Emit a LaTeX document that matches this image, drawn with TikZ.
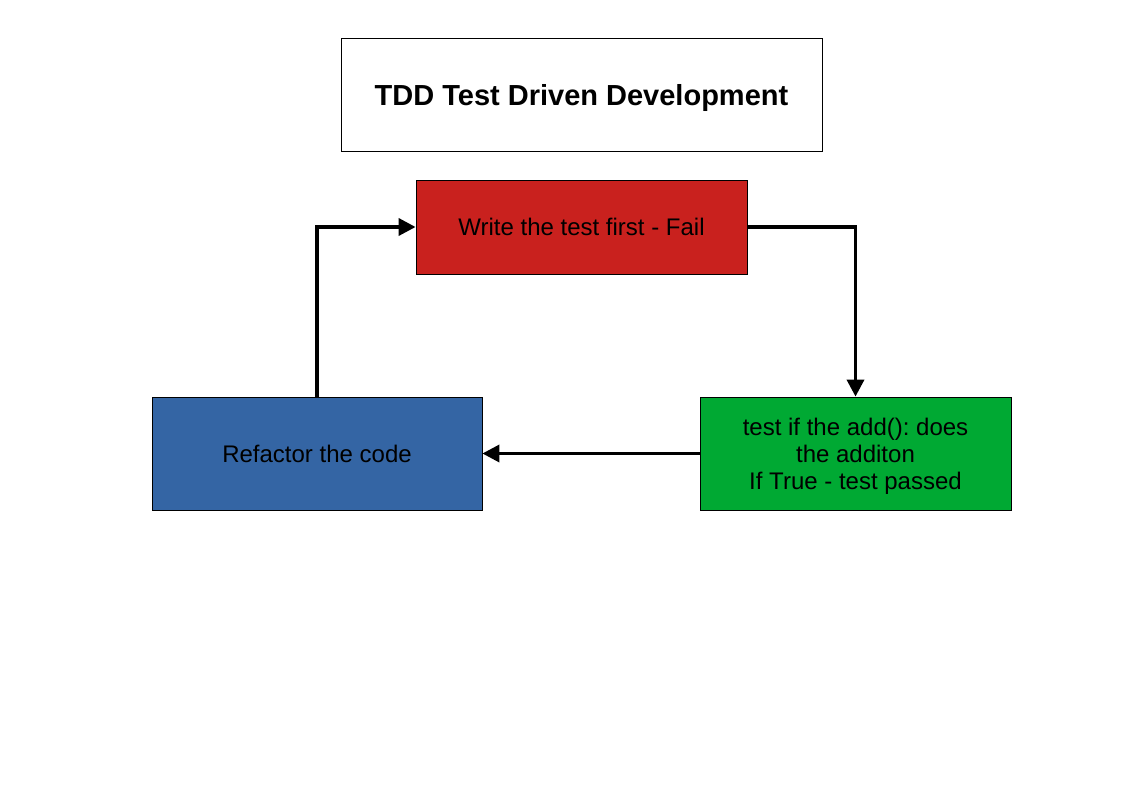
\documentclass[tikz,border=0pt]{standalone}
\usepackage{fontspec}
\setmainfont{Liberation Sans}
\usetikzlibrary{arrows.meta}

\definecolor{failRed}{HTML}{C9211E}
\definecolor{passGreen}{HTML}{00A933}
\definecolor{refactorBlue}{HTML}{3465A4}

\tikzset{
  stepbox/.style={draw=black, line width=0.8pt, minimum width=331pt, minimum height=94pt,
    align=center, font=\fontsize{24}{27}\selectfont, inner sep=0pt},
  flow/.style={line width=3.5pt, -{Triangle[length=17pt,width=17pt]}}
}

\begin{document}
\frenchspacing
\begin{tikzpicture}[x=1pt,y=-1pt]
      \useasboundingbox (0,0) rectangle (1123,794);

      \node[draw=black, line width=0.8pt, minimum width=481pt, minimum height=113pt,
        text depth=0pt, font=\bfseries\fontsize{29}{34}\selectfont]
        (title) at (581.5,94.5) {TDD Test Driven Development};

      \node[stepbox, fill=failRed]
        (write) at (581.5,227) {Write the test first - Fail};
      \node[stepbox, fill=passGreen, minimum width=311pt, minimum height=113pt]
        (test) at (855.5,453.5) {};
      \node[align=center, font=\fontsize{24}{27}\selectfont]
        (testtext) at ([yshift=-3pt]test.center) {test if the add(): does\\the additon\\If True - test passed};
      \node[stepbox, fill=refactorBlue, minimum width=330pt, minimum height=113pt]
        (refactor) at (317,453.5) {Refactor the code};

      \draw[flow]
        (write.east) -| (test.north)
      ;
      \draw[flow]
        (test.west) -- (refactor.east)
      ;
      \draw[flow]
        (refactor.north) |- (write.west)
      ;
    \end{tikzpicture}
\end{document}
